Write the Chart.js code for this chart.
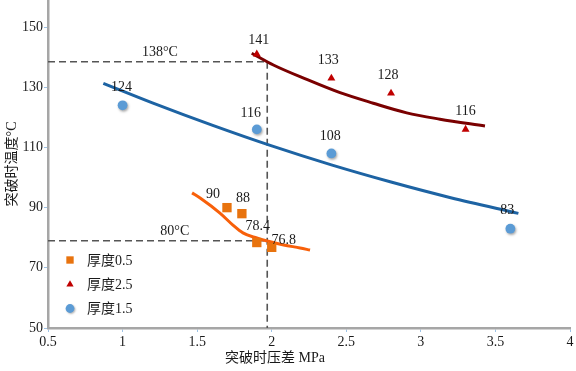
<!DOCTYPE html>
<html>
<head>
<meta charset="utf-8">
<script src="https://cdn.jsdelivr.net/npm/chart.js@4/dist/chart.umd.min.js"></script>
<style>
html,body{margin:0;padding:0;background:#fff;}
#wrap{width:576px;height:371px;position:relative;}
</style>
</head>
<body>
<div id="wrap"><canvas id="c" width="576" height="371"></canvas></div>
<script>
// ---- data ----
const seriesNames = ['厚度0.5', '厚度2.5', '厚度1.5'];
const pressure05 = [1.7, 1.8, 1.9, 2.0];
const temp05 = [90, 88, 78.4, 76.8];
const pressure25 = [1.9, 2.4, 2.8, 3.3];
const temp25 = [141, 133, 128, 116];
const pressure15 = [1.0, 1.9, 2.4, 3.6];
const temp15 = [124, 116, 108, 83];

// fitted trend curves
const fit05X = [1.466, 1.52, 1.653, 1.74, 1.807, 1.90, 1.97, 2.08, 2.19, 2.257];
const fit05Y = [94.9, 93.2, 88.2, 84.2, 81.6, 79.9, 78.9, 77.6, 76.6, 75.9];
const fit25X = [1.866, 2.011, 2.235, 2.458, 2.681, 2.905, 3.128, 3.43];
const fit25Y = [141.3, 137.4, 132.6, 128.2, 124.7, 121.5, 119.4, 117.1];
const fit15X = [0.871, 1.2, 1.6, 2.0, 2.4, 2.8, 3.2, 3.654];
const fit15Y = [131.3, 124.8, 117.4, 110.5, 104.2, 98.5, 93.3, 88.1];

// guide lines
const guidePressure = 1.97;
const guideTemps = [138.5, 79.0];
const guideTexts = ['138°C', '80°C'];
const guideTextX = [1.25, 1.35];
const guideTextY = [141.7, 82.2];

// axes
const xTickValues = [0.5, 1, 1.5, 2, 2.5, 3, 3.5, 4];
const xTickLabels = ['0.5', '1', '1.5', '2', '2.5', '3', '3.5', '4'];
const yTickValues = [50, 70, 90, 110, 130, 150];
const yTickLabels = ['50', '70', '90', '110', '130', '150'];
const xTitle = '突破时压差 MPa';
const yTitle = '突破时温度°C';

// ---- styling (kept separate from data) ----
const SERIF = "'Liberation Serif','Noto Sans CJK SC',serif";
const colors = {
  sq: '#E8730E', sqLine: '#F8600A',
  tri: '#C00000', triLine: '#7A0000',
  cir: '#5B9BD5', cirLine: '#1D63A3',
  guide: '#555555', text: '#1a1a1a', axis: '#A6A6A6', tick: '#9DC3E6'
};
const labelOffsets = [
  [[-14, -13], [1, -15], [1, -16], [12, -7]],
  [[2, -14], [-3, -18], [-3, -18], [0, -18]],
  [[-1, -18], [-6, -16], [-1, -17], [-3, -18]]
];

const pts = (xs, ys) => xs.map((x, i) => ({x: x, y: ys[i]}));

const guideDatasets = guideTemps.map(t => ({
  type: 'line', data: [{x: 0.5, y: t}, {x: guidePressure, y: t}],
  borderColor: colors.guide, borderWidth: 1.6, borderDash: [7, 4],
  pointRadius: 0, showLine: true, order: 10, isGuide: true
}));
guideDatasets.push({
  type: 'line', data: [{x: guidePressure, y: guideTemps[0]}, {x: guidePressure, y: 50}],
  borderColor: colors.guide, borderWidth: 1.6, borderDash: [7, 4],
  pointRadius: 0, showLine: true, order: 10, isGuide: true
});

const fitStyle = {type: 'line', pointRadius: 0, showLine: true, borderWidth: 3,
  cubicInterpolationMode: 'monotone', order: 5, isFit: true};

const datasets = [
  {label: seriesNames[0], data: pts(pressure05, temp05), pointStyle: 'rect', pointRadius: 6.6,
   backgroundColor: colors.sq, borderColor: colors.sq, borderWidth: 0, order: 1, isPts: true, labelSet: 0},
  {label: seriesNames[1], data: pts(pressure25, temp25), pointStyle: 'triangle', pointRadius: 4.6,
   backgroundColor: colors.tri, borderColor: colors.tri, borderWidth: 0, order: 1, isPts: true, labelSet: 1},
  {label: seriesNames[2], data: pts(pressure15, temp15), pointStyle: 'circle', pointRadius: 4.9,
   backgroundColor: colors.cir, borderColor: colors.cir, borderWidth: 0, order: 1, isPts: true, labelSet: 2, shadow: true},
  Object.assign({}, fitStyle, {data: pts(fit05X, fit05Y), borderColor: colors.sqLine}),
  Object.assign({}, fitStyle, {data: pts(fit25X, fit25Y), borderColor: colors.triLine}),
  Object.assign({}, fitStyle, {data: pts(fit15X, fit15Y), borderColor: colors.cirLine}),
  ...guideDatasets
];

const fmt = v => (Math.round(v * 10) / 10).toString();

const decor = {
  id: 'decor',
  beforeDatasetDraw(chart, args) {
    const ds = chart.data.datasets[args.index];
    if (ds.shadow) {
      const ctx = chart.ctx;
      ctx.save();
      ctx.shadowColor = 'rgba(0,0,0,0.35)';
      ctx.shadowBlur = 2.5;
      ctx.shadowOffsetX = 1;
      ctx.shadowOffsetY = 1.5;
    }
  },
  afterDatasetDraw(chart, args) {
    const ds = chart.data.datasets[args.index];
    if (ds.shadow) chart.ctx.restore();
  },
  afterDatasetsDraw(chart) {
    const ctx = chart.ctx;
    const xs = chart.scales.x, ys = chart.scales.y;
    ctx.save();
    ctx.fillStyle = colors.text;
    ctx.font = '14px ' + SERIF;
    ctx.textAlign = 'center';
    ctx.textBaseline = 'middle';
    chart.data.datasets.forEach((ds, di) => {
      if (!ds.isPts) return;
      const meta = chart.getDatasetMeta(di);
      meta.data.forEach((el, i) => {
        const off = labelOffsets[ds.labelSet][i];
        ctx.fillText(fmt(ds.data[i].y), el.x + off[0], el.y + off[1]);
      });
    });
    // guide texts
    guideTexts.forEach((t, i) => {
      ctx.fillText(t, xs.getPixelForValue(guideTextX[i]), ys.getPixelForValue(guideTextY[i]));
    });
    // legend
    const ca = chart.chartArea;
    const order = [0, 1, 2];
    const rowY = [ca.bottom - 68, ca.bottom - 43.5, ca.bottom - 19.5];
    const sizes = [5.2, 4.2, 4.4];
    order.forEach((di, r) => {
      const ds = chart.data.datasets[di];
      const mx = ca.left + 22, my = rowY[r];
      ctx.save();
      ctx.fillStyle = ds.backgroundColor;
      ctx.strokeStyle = ds.backgroundColor;
      if (ds.shadow) {
        ctx.shadowColor = 'rgba(0,0,0,0.3)'; ctx.shadowBlur = 2; ctx.shadowOffsetX = 1; ctx.shadowOffsetY = 1;
      }
      Chart.helpers.drawPoint(ctx, {pointStyle: ds.pointStyle, radius: sizes[r], rotation: 0, borderWidth: 0}, mx, my);
      ctx.restore();
      ctx.textAlign = 'left';
      ctx.fillText(ds.label, ca.left + 39, my + 1);
    });
    // axis titles
    ctx.font = '14px ' + SERIF;
    ctx.textAlign = 'center';
    ctx.fillText(xTitle, ca.left + 227, 358);
    ctx.save();
    ctx.translate(12, (ca.top + ca.bottom) / 2);
    ctx.rotate(-Math.PI / 2);
    ctx.fillText(yTitle, 0, 0);
    ctx.restore();
    ctx.restore();
  }
};

const zeroPad = s => { s.paddingTop = 0; s.paddingBottom = 0; s.paddingLeft = 0; s.paddingRight = 0; };

new Chart(document.getElementById('c'), {
  type: 'scatter',
  data: {datasets: datasets},
  plugins: [decor],
  options: {
    responsive: false,
    animation: false,
    layout: {autoPadding: false, padding: {left: 0, right: 6, top: 0, bottom: 0}},
    plugins: {legend: {display: false}, tooltip: {enabled: false}},
    scales: {
      x: {
        type: 'linear', min: 0.5, max: 4,
        afterBuildTicks: s => { s.ticks = xTickValues.map(v => ({value: v})); },
        afterFit: s => { s.height = 43; zeroPad(s); },
        ticks: {
          callback: (v) => { const i = xTickValues.indexOf(v); return i >= 0 ? xTickLabels[i] : ''; },
          font: {family: SERIF, size: 14}, color: colors.text, padding: 2, maxRotation: 0, autoSkip: false
        },
        grid: {drawOnChartArea: false, drawTicks: true, tickLength: 4, color: colors.tick},
        border: {display: true, color: colors.axis, width: 2.5}
      },
      y: {
        type: 'linear', min: 50, max: 159,
        afterBuildTicks: s => { s.ticks = yTickValues.map(v => ({value: v})); },
        afterFit: s => { s.width = 48; zeroPad(s); },
        ticks: {
          callback: (v) => { const i = yTickValues.indexOf(v); return i >= 0 ? yTickLabels[i] : ''; },
          font: {family: SERIF, size: 14}, color: colors.text, padding: 1, autoSkip: false
        },
        grid: {drawOnChartArea: false, drawTicks: true, tickLength: 4, color: colors.tick},
        border: {display: true, color: colors.axis, width: 2.5}
      }
    }
  }
});
</script>
</body>
</html>
